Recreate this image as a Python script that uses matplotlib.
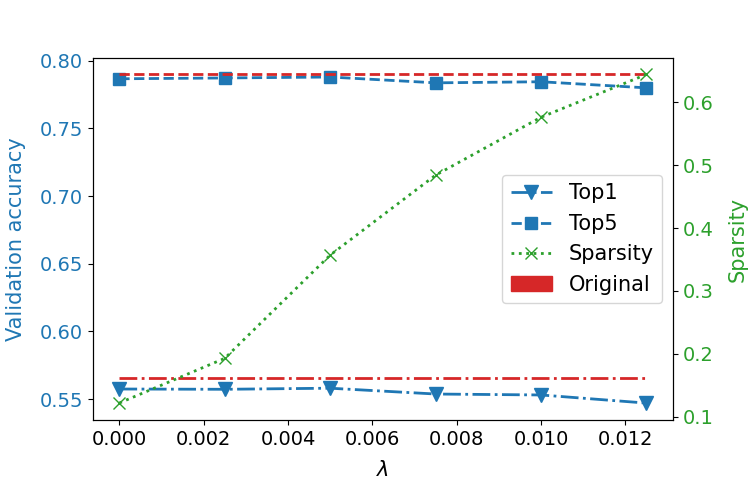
import numpy as np
import matplotlib
matplotlib.use('Agg')
import matplotlib.pyplot as plt
import matplotlib.patches as mpatches

plt.rc('font', size=14)
plt.rc('lines', linewidth=2)

lambdas = [0.0, 0.0025, 0.005, 0.0075, 0.01, 0.0125]
top1 = [0.5574, 0.5572, 0.5580, 0.5537, 0.5530, 0.5470]
top5 = [0.7867, 0.7873, 0.7880, 0.7837, 0.7845, 0.7800]
sparsity = [0.122, 0.193, 0.357, 0.484, 0.576, 0.644]
orig_top1 = 0.5655
orig_top5 = 0.7904

fig, ax = plt.subplots(figsize=(7.5, 4.8), dpi=100)
ax2 = ax.twinx()

l1, = ax.plot(lambdas, top1, '-.v', color='tab:blue', markersize=10, label='Top1')
l2, = ax.plot(lambdas, top5, '--s', color='tab:blue', markersize=9, label='Top5')
ax.hlines(orig_top1, lambdas[0], lambdas[-1], color='tab:red', linestyle='-.', linewidth=2)
ax.hlines(orig_top5, lambdas[0], lambdas[-1], color='tab:red', linestyle='--', linewidth=2)
l3, = ax2.plot(lambdas, sparsity, ':x', color='tab:green', markersize=9, label='Sparsity')

ax.set_ylim(0.5345, 0.802)
ax2.set_ylim(0.095, 0.670)

ax.set_xlabel(r'$\lambda$', fontsize=15, labelpad=8)
ax.set_ylabel('Validation accuracy', color='tab:blue', fontsize=15, labelpad=10)
ax.tick_params(axis='y', labelcolor='tab:blue')
ax2.set_ylabel('Sparsity', color='tab:green', fontsize=15, labelpad=10)
ax2.tick_params(axis='y', labelcolor='tab:green')

orig_patch = mpatches.Patch(color='tab:red', label='Original')
ax2.legend(handles=[l1, l2, l3, orig_patch], loc='center right', fontsize=15)

fig.subplots_adjust(left=0.124, right=0.897, top=0.879, bottom=0.125)
fig.savefig('out.png')
